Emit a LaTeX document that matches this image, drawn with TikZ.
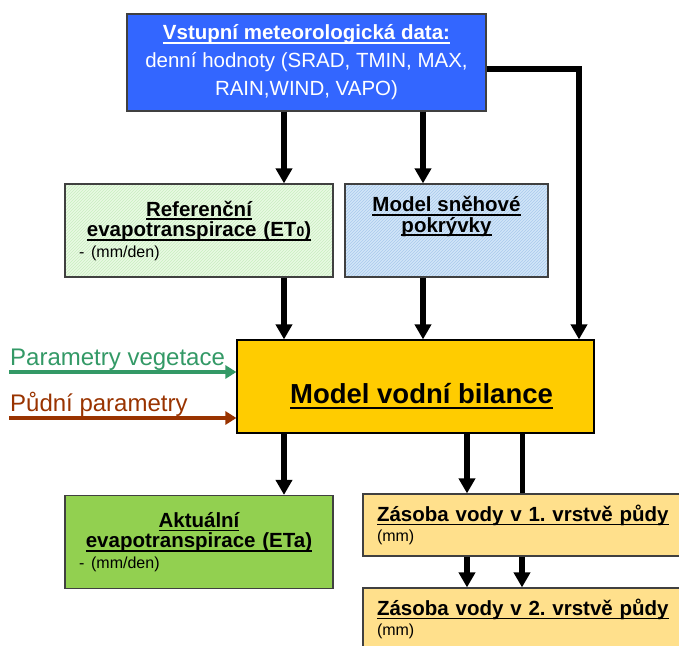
\documentclass[tikz,border=0pt]{standalone}
\usepackage{fontspec}
\setmainfont{Liberation Sans}
\usepackage{tikz}
\usetikzlibrary{arrows.meta,patterns,calc}
\definecolor{meteoblue}{HTML}{3366FF}
\definecolor{refgreen}{HTML}{E9FAE3}
\definecolor{refhatch}{HTML}{C9EDC0}
\definecolor{snowblue}{HTML}{D2E6F8}
\definecolor{snowhatch}{HTML}{A9C9EC}
\definecolor{mainyellow}{HTML}{FFCC00}
\definecolor{etagreen}{HTML}{92D050}
\definecolor{soilyellow}{HTML}{FFE08C}
\definecolor{boxgray}{HTML}{404040}
\definecolor{veggreen}{HTML}{339966}
\definecolor{soilbrown}{HTML}{993300}
\frenchspacing

% underlined heading with a fixed offset below the baseline
\newsavebox{\hdrbox}
\newcommand{\hdr}[1]{\sbox{\hdrbox}{#1}\leavevmode
  \rlap{\vrule height -0.11em depth 0.2em width \wd\hdrbox}\usebox{\hdrbox}}
\newcommand{\smallsub}[1]{{\fontsize{14}{14}\selectfont #1}}

\begin{document}
\begin{tikzpicture}[
  x=1pt, y=-1pt,
  box/.style={
    draw=boxgray,
    line width=1.2pt,
    inner sep=0pt,
    minimum height=93pt,
    align=center,
  },
  textsize/.style={font=\fontsize{20.5}{20.5}\selectfont},
  hatched/.style={
    preaction={fill=#1},
    pattern=north east lines,
  },
  arr/.style={
    -{Triangle[length=15pt, width=16pt]},
    line width=5.5pt,
    draw=black,
  },
  link/.style={
    line width=5pt,
    draw=black,
  },
  inarr/.style={
    -{Triangle[length=11pt, width=13pt]},
    line width=4pt,
  },
  param/.style={
    font=\fontsize{24}{24}\selectfont,
    inner sep=0pt,
    anchor=base west,
  },
]
\clip (0,0) rectangle (679,645);

% --- columns of the connectors ---
\coordinate (colA) at (284,0);
\coordinate (colB) at (423,0);
\coordinate (colD) at (467,0);
\coordinate (colE) at (522,0);
\coordinate (feed) at (579,69);

% =============================================================================
% Inputs
% =============================================================================
\node[box, fill=meteoblue, text=white, minimum width=359pt, minimum height=97pt,
      font=\fontsize{20.5}{28}\selectfont] (meteo) at (306.5,62.5) {%
  \hdr{\bfseries Vstupní meteorologická data:}\\
  denní hodnoty (SRAD, TMIN, MAX,\\
  RAIN,WIND, VAPO)};

\node[box, hatched=refgreen, pattern color=refhatch, minimum width=268pt,
      text width=240pt, textsize] (ref) at (199,230.5) {%
  \hdr{\bfseries Referenční}\\
  \hdr{\bfseries evapotranspirace (ET\smallsub{0})}\\
  \makebox[\linewidth][l]{\fontsize{16}{16}\selectfont - (mm/den)}};

\node[box, hatched=snowblue, pattern color=snowhatch, minimum width=203pt,
      textsize] (snow) at (446.5,230.5) {%
  \hdr{\bfseries Model sněhové}\\
  \hdr{\bfseries pokrývky}\\[12pt]
  \mbox{}};

% =============================================================================
% Water balance model
% =============================================================================
\node[box, draw=black, fill=mainyellow, minimum width=357pt] (main) at (415.5,386.5) {};
\node[font=\bfseries\fontsize{27.5}{30}\selectfont, inner sep=0pt]
  (maintitle) at ([xshift=6pt, yshift=-10pt]main.center) {\hdr{Model vodní bilance}};

\node[param, text=veggreen] (vegtext) at (10,365) {Parametry vegetace};
\node[param, text=soilbrown] (soiltext) at (10,411) {Půdní parametry};
\coordinate (vegin) at (9,372);
\coordinate (soilin) at (9,418);

% =============================================================================
% Outputs
% =============================================================================
\node[box, fill=etagreen, minimum width=268pt, text width=240pt, textsize]
  (eta) at (199,542) {%
  \hdr{\bfseries Aktuální}\\
  \hdr{\bfseries evapotranspirace (ETa)}\\
  \makebox[\linewidth][l]{\fontsize{16}{16}\selectfont - (mm/den)}};

\node[box, fill=soilyellow, minimum width=340pt, minimum height=62pt,
      text width=312pt, align=left, textsize] (layer1) at (533,525) {%
  \hdr{\bfseries Zásoba vody v 1. vrstvě půdy}\\
  {\fontsize{16}{16}\selectfont (mm)}};

\node[box, fill=soilyellow, minimum width=340pt, minimum height=62pt,
      text width=312pt, align=left, textsize] (layer2) at (533,619) {%
  \hdr{\bfseries Zásoba vody v 2. vrstvě půdy}\\
  {\fontsize{16}{16}\selectfont (mm)}};

% --- connectors ---
\draw[arr] (meteo.south -| colA) -- (ref.north -| colA);
\draw[arr] (meteo.south -| colB) -- (snow.north -| colB);
\draw[arr] (meteo.east |- feed) -| (main.north -| feed);
\draw[arr] (ref.south -| colA) -- (main.north -| colA);
\draw[arr] (snow.south -| colB) -- (main.north -| colB);
\draw[inarr, draw=veggreen] (vegin) -- (vegin -| main.west);
\draw[inarr, draw=soilbrown] (soilin) -- (soilin -| main.west);
\draw[arr] (main.south -| colA) -- (eta.north -| colA);
\draw[arr] (main.south -| colD) -- (layer1.north -| colD);
\draw[link] (main.south -| colE) -- (layer1.north -| colE);
\draw[arr] (layer1.south -| colD) -- (layer2.north -| colD);
\draw[arr] (layer1.south -| colE) -- (layer2.north -| colE);

\end{tikzpicture}
\end{document}
